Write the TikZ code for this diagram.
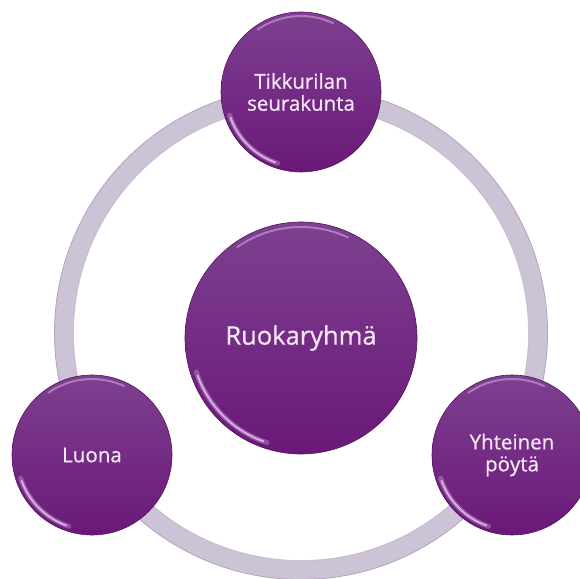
\documentclass[tikz,border=0pt]{standalone}
\usepackage{fontspec}
\setmainfont{Open Sans}[FakeBold=0.7]
\definecolor{ptop}{HTML}{7E4090}
\definecolor{pbot}{HTML}{6A1878}
\definecolor{ptext}{HTML}{F4E6F4}
\definecolor{ringc}{HTML}{CDC3D6}
\definecolor{ringedge}{HTML}{B3A3BE}
\definecolor{glarec}{HTML}{E6C6EE}
\tikzset{
  bubble/.style={circle, inner sep=0pt, minimum size=160pt, top color=ptop, bottom color=pbot,
    draw=pbot!80!black, line width=0.6pt, text=ptext, align=center,
    font=\fontsize{20.5}{22}\selectfont},
  bigbubble/.style={bubble, minimum size=232pt, font=\fontsize{25.5}{30}\selectfont},
  glarewide/.style={glarec, line width=5pt, line cap=round, opacity=0.3},
  glare/.style={glarec, line width=2pt, line cap=round, opacity=0.8},
  rim/.style={glarec, line width=2pt, line cap=round, opacity=0.45},
  ringbody/.style={ringc, line width=19pt},
  ringline/.style={ringedge, line width=0.8pt}
}
\begin{document}
\begin{tikzpicture}[x=1pt,y=1pt]
\useasboundingbox (0,0) rectangle (580,578);
\clip (0,0) rectangle (580,578);
% ring
\coordinate (RC) at (301,245);
\draw[ringbody] (RC) circle[radius=237];
\draw[ringline] (RC) circle[radius=246.5];
\draw[ringline, opacity=0.5] (RC) circle[radius=227.5];
% nodes
\node[bigbubble] (C) at (301,240) {Ruokaryhmä};
\node[bubble] (T) at (301,486) {Tikkurilan\\seurakunta};
\node[bubble] (L) at (92,123) {Luona};
\node[bubble] (R) at (512,123) {Yhteinen\\pöytä};
% highlights
\foreach \n/\r in {T/75,L/75,R/75,C/110}{
  \draw[glarewide] (\n.center) ++(198:\r) arc[start angle=198, end angle=252, radius=\r];
  \draw[glare] (\n.center) ++(200:\r) arc[start angle=200, end angle=250, radius=\r];
  \draw[rim] (\n.center) ++(65:\r+1) arc[start angle=65, end angle=125, radius=\r+1];
}
\end{tikzpicture}
\end{document}
